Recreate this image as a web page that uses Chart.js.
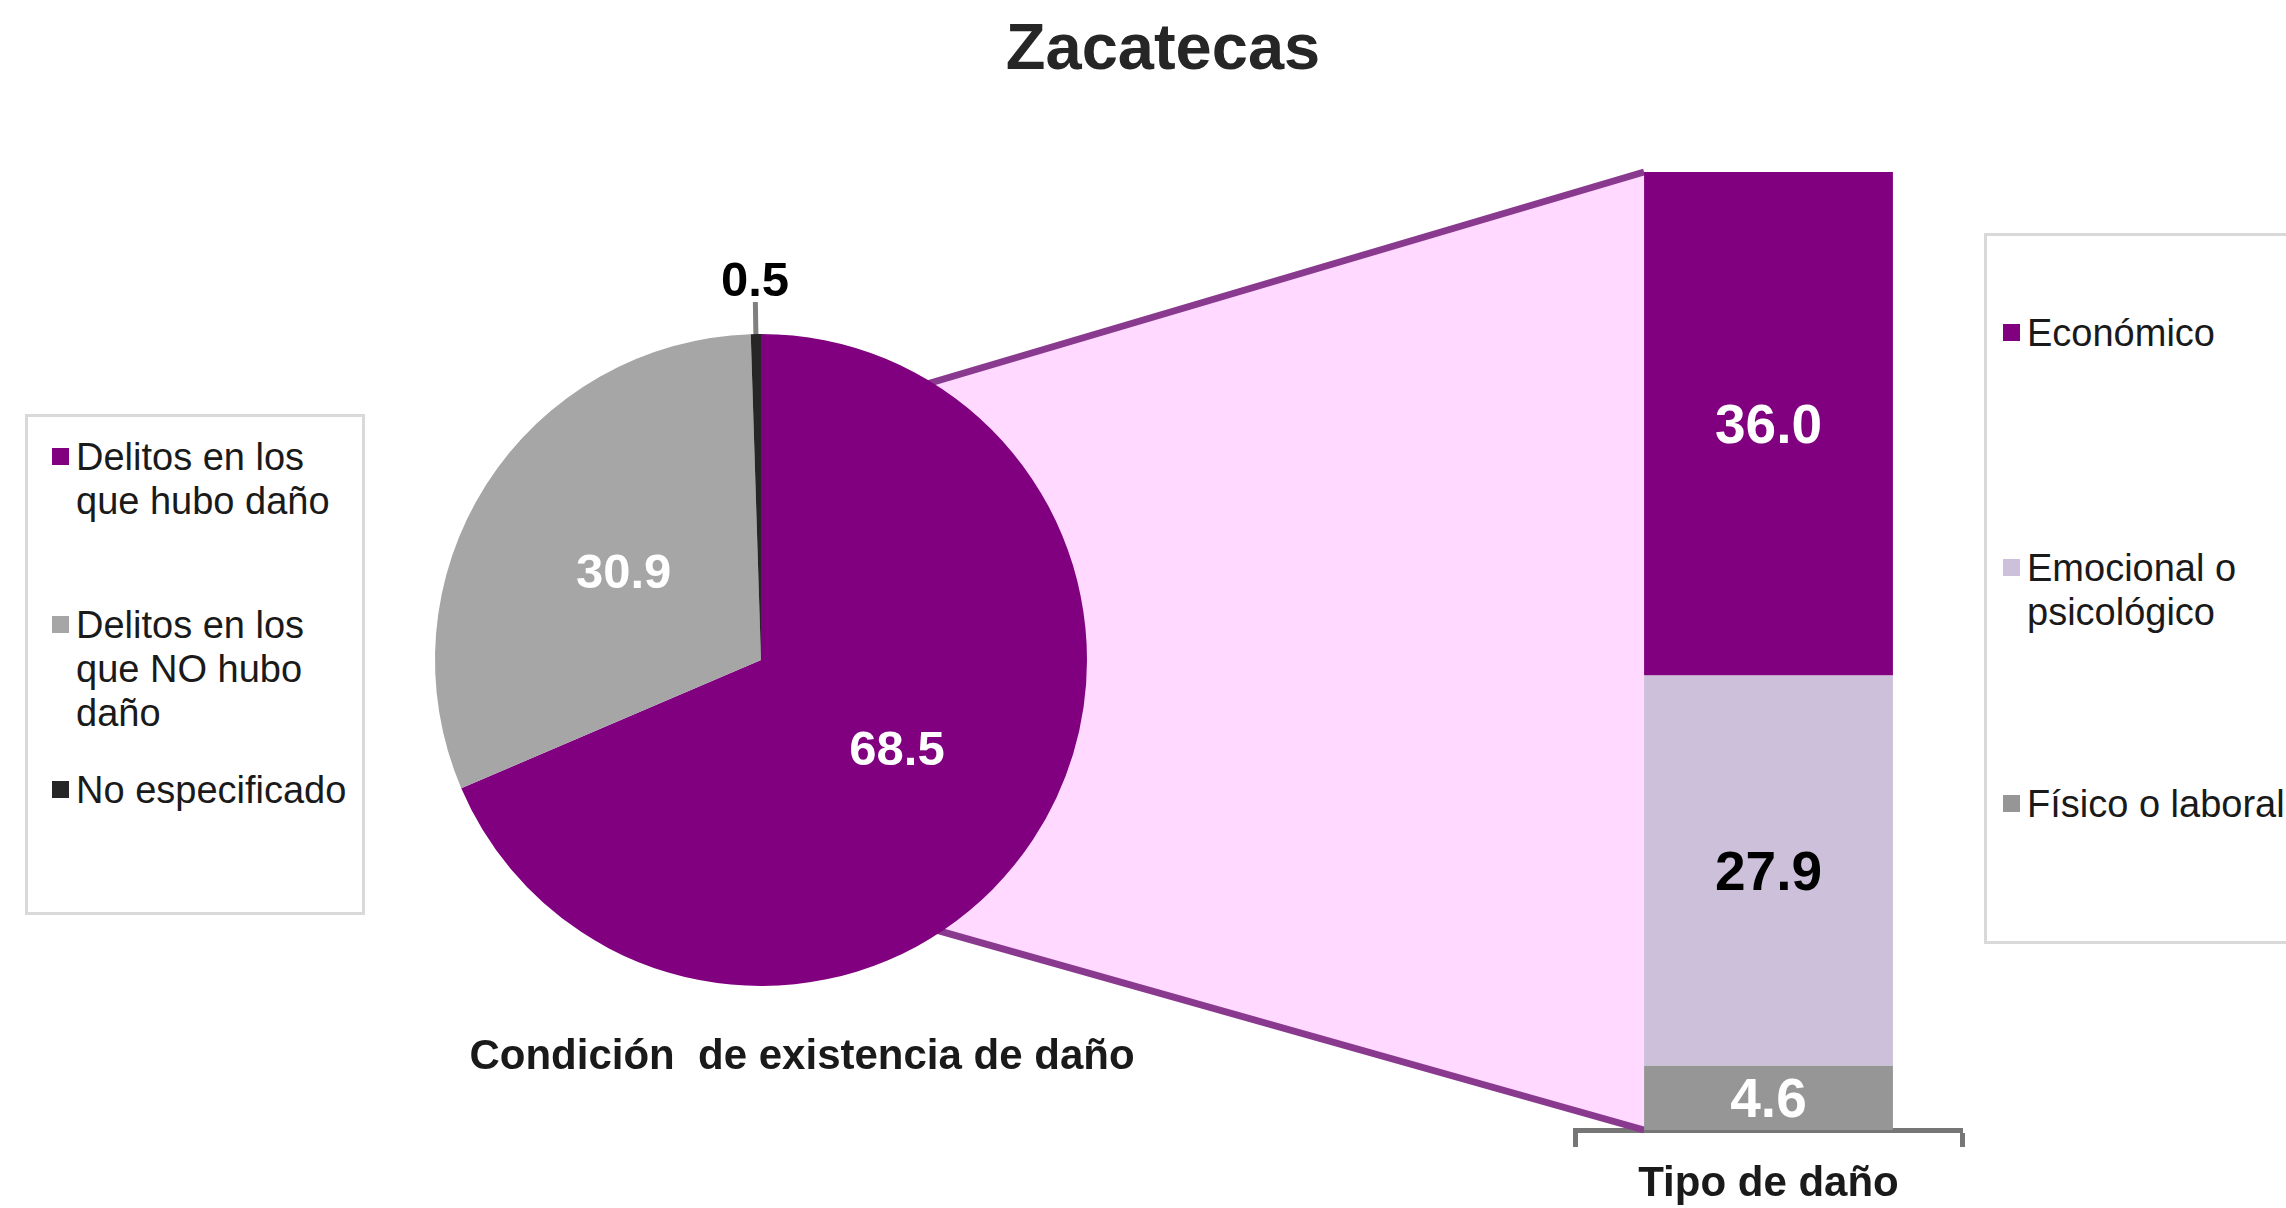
<!DOCTYPE html>
<html lang="es">
<head>
<meta charset="utf-8">
<title>Zacatecas</title>
<script src="https://cdn.jsdelivr.net/npm/chart.js@4.4.1/dist/chart.umd.min.js"></script>
<style>
    body { margin: 0; background: #fff; }
    #lienzo {
        position: relative; width: 2286px; height: 1208px; overflow: hidden;
        font-family: "Liberation Sans", Arial, sans-serif; color: #1a1a1a;
    }
    #lienzo canvas { position: absolute; left: 0; top: 0; }
    #titulo {
        position: absolute; left: 0; width: 2326px; top: 9px; text-align: center;
        font-size: 65px; font-weight: bold; color: #262626;
    }
    #subtitulo {
        position: absolute; left: 400px; width: 804px; top: 1031px; text-align: center;
        font-size: 42px; font-weight: bold; white-space: pre; color: #1a1a1a;
    }
    .leyenda {
        position: absolute; border: 3px solid #d9d9d9; background: #fff; box-sizing: border-box;
    }
    .item { position: absolute; font-size: 38px; line-height: 44px; white-space: pre; }
    .item i {
        position: absolute; width: 17px; height: 17px; left: -24px; top: 13px;
    }
</style>
</head>
<body>
<div id="lienzo">
    <canvas id="barra" width="2286" height="1208"></canvas>
    <canvas id="pastel" width="2286" height="1208"></canvas>
    <div id="titulo"></div>
    <div id="subtitulo"></div>
    <div id="leyendaIzq" class="leyenda" style="left:25px; top:414px; width:340px; height:501px;"></div>
    <div id="leyendaDer" class="leyenda" style="left:1984px; top:233px; width:340px; height:711px;"></div>
</div>
<script>
    const TITULO = 'Zacatecas';
    const SUBTITULO = 'Condición  de existencia de daño';

    // --- Condición de existencia de daño (pastel) ---
    const condicionLabels = [
        ['Delitos en los', 'que hubo daño'],
        ['Delitos en los', 'que NO hubo', 'daño'],
        ['No especificado']
    ];
    const condicionValues = [68.5, 30.9, 0.5];
    const condicionColors = ['#800080', '#a6a6a6', '#262626'];

    // --- Tipo de daño (barra apilada) ---
    const tipoCategoria = ['Tipo de daño'];
    const tipoLabels = [['Económico'], ['Emocional o', 'psicológico'], ['Físico o laboral']];
    const tipoValues = [36.0, 27.9, 4.6];
    const tipoColors = ['#800080', '#ccc0da', '#969696'];

    const FUENTE = '"Liberation Sans", Arial, sans-serif';

    document.getElementById('titulo').textContent = TITULO;
    document.getElementById('subtitulo').textContent = SUBTITULO;

    // leyendas en HTML, posiciones verticales de cada elemento
    function crearLeyenda(id, labels, colors, tops, left) {
        const box = document.getElementById(id);
        labels.forEach((lineas, i) => {
            const item = document.createElement('div');
            item.className = 'item';
            item.style.top = tops[i] + 'px';
            item.style.left = left + 'px';
            const marca = document.createElement('i');
            marca.style.background = colors[i];
            item.appendChild(marca);
            item.appendChild(document.createTextNode(lineas.join('\n')));
            box.appendChild(item);
        });
    }
    crearLeyenda('leyendaIzq', condicionLabels, condicionColors, [18, 186, 351], 48);
    crearLeyenda('leyendaDer', tipoLabels, tipoColors, [75, 310, 546], 40);

    // etiquetas del pastel
    const etiquetasPastel = {
        id: 'etiquetasPastel',
        afterDatasetsDraw(chart) {
            const ctx = chart.ctx;
            const values = chart.data.datasets[0].data;
            ctx.save();
            ctx.font = `bold 49px ${FUENTE}`;
            ctx.textAlign = 'center';
            ctx.textBaseline = 'middle';
            chart.getDatasetMeta(0).data.forEach((arc, i) => {
                const texto = values[i].toFixed(1);
                if (values[i] >= 5) {
                    const p = arc.tooltipPosition();
                    ctx.fillStyle = '#ffffff';
                    ctx.fillText(texto, p.x, p.y + 2);
                } else {
                    const mid = (arc.startAngle + arc.endAngle) / 2;
                    const r = arc.outerRadius;
                    ctx.strokeStyle = '#808080';
                    ctx.lineWidth = 5;
                    ctx.beginPath();
                    ctx.moveTo(arc.x + Math.cos(mid) * r, arc.y + Math.sin(mid) * r);
                    ctx.lineTo(arc.x + Math.cos(mid) * (r + 32), arc.y + Math.sin(mid) * (r + 32));
                    ctx.stroke();
                    ctx.fillStyle = '#000000';
                    ctx.fillText(texto, arc.x + Math.cos(mid) * (r + 52), arc.y + Math.sin(mid) * (r + 52));
                }
            });
            ctx.restore();
        }
    };

    const pieChart = new Chart(document.getElementById('pastel'), {
        type: 'pie',
        data: {
            labels: condicionLabels,
            datasets: [{
                data: condicionValues,
                backgroundColor: condicionColors,
                borderWidth: 0,
                hoverOffset: 0
            }]
        },
        options: {
            responsive: false,
            animation: false,
            events: [],
            layout: { padding: { left: 435, right: 1199, top: 334, bottom: 222 } },
            plugins: { legend: { display: false }, tooltip: { enabled: false } }
        },
        plugins: [etiquetasPastel]
    });

    // trapecio rosa que une el pastel con la barra
    const conector = {
        id: 'conector',
        beforeDatasetsDraw(chart) {
            const arc = pieChart.getDatasetMeta(0).data[0];
            const metas = chart.getSortedVisibleDatasetMetas();
            const abajo = metas[0].data[0];
            const arriba = metas[metas.length - 1].data[0];
            const bx = arriba.x - arriba.width / 2;
            const deg = d => (d - 90) * Math.PI / 180;
            const a1 = deg(31), a2 = deg(147);
            const r = arc.outerRadius - 4;
            const p1 = [arc.x + Math.cos(a1) * r, arc.y + Math.sin(a1) * r];
            const p2 = [arc.x + Math.cos(a2) * r, arc.y + Math.sin(a2) * r];
            const ctx = chart.ctx;
            ctx.save();
            ctx.fillStyle = '#ffd9ff';
            ctx.beginPath();
            ctx.moveTo(p1[0], p1[1]);
            ctx.lineTo(bx, arriba.y);
            ctx.lineTo(bx, abajo.base);
            ctx.lineTo(p2[0], p2[1]);
            ctx.closePath();
            ctx.fill();
            ctx.strokeStyle = '#8a3a8e';
            ctx.lineWidth = 7;
            ctx.beginPath();
            ctx.moveTo(p1[0], p1[1]);
            ctx.lineTo(bx, arriba.y);
            ctx.moveTo(p2[0], p2[1]);
            ctx.lineTo(bx, abajo.base);
            ctx.stroke();
            ctx.restore();
        }
    };

    // etiquetas dentro de la barra
    const etiquetasBarra = {
        id: 'etiquetasBarra',
        afterDatasetsDraw(chart) {
            const ctx = chart.ctx;
            ctx.save();
            ctx.font = `bold 55px ${FUENTE}`;
            ctx.textAlign = 'center';
            ctx.textBaseline = 'middle';
            chart.getSortedVisibleDatasetMetas().forEach(meta => {
                const ds = chart.data.datasets[meta.index];
                const bar = meta.data[0];
                ctx.fillStyle = ds.labelColor;
                ctx.fillText(ds.data[0].toFixed(1), bar.x, (bar.y + bar.base) / 2 + 4);
            });
            ctx.restore();
        }
    };

    const colorTexto = ['#ffffff', '#000000', '#ffffff'];
    // la barra se apila de abajo hacia arriba: Físico, Emocional, Económico
    const datasetsTipo = tipoValues.map((v, i) => ({
        label: tipoLabels[i].join(' '),
        data: [v],
        backgroundColor: tipoColors[i],
        labelColor: colorTexto[i],
        borderWidth: 0
    })).reverse();

    const totalTipo = tipoValues.reduce((a, b) => a + b, 0);

    new Chart(document.getElementById('barra'), {
        type: 'bar',
        data: { labels: tipoCategoria, datasets: datasetsTipo },
        options: {
            responsive: false,
            animation: false,
            events: [],
            layout: { padding: { left: 1575, right: 324, top: 172, bottom: 0 } },
            datasets: { bar: { barPercentage: 0.643, categoryPercentage: 1 } },
            scales: {
                x: {
                    stacked: true,
                    grid: {
                        display: true, drawOnChartArea: false, drawTicks: true,
                        tickLength: 17, tickWidth: 5, tickColor: '#767676', offset: true
                    },
                    border: { display: true, color: '#767676', width: 5 },
                    ticks: {
                        color: '#1a1a1a', padding: 12,
                        font: { family: FUENTE, size: 42, weight: 'bold' }
                    },
                    afterFit: s => { s.height = 78; }
                },
                y: { stacked: true, display: false, min: 0, max: totalTipo }
            },
            plugins: { legend: { display: false }, tooltip: { enabled: false } }
        },
        plugins: [conector, etiquetasBarra]
    });
</script>
</body>
</html>
